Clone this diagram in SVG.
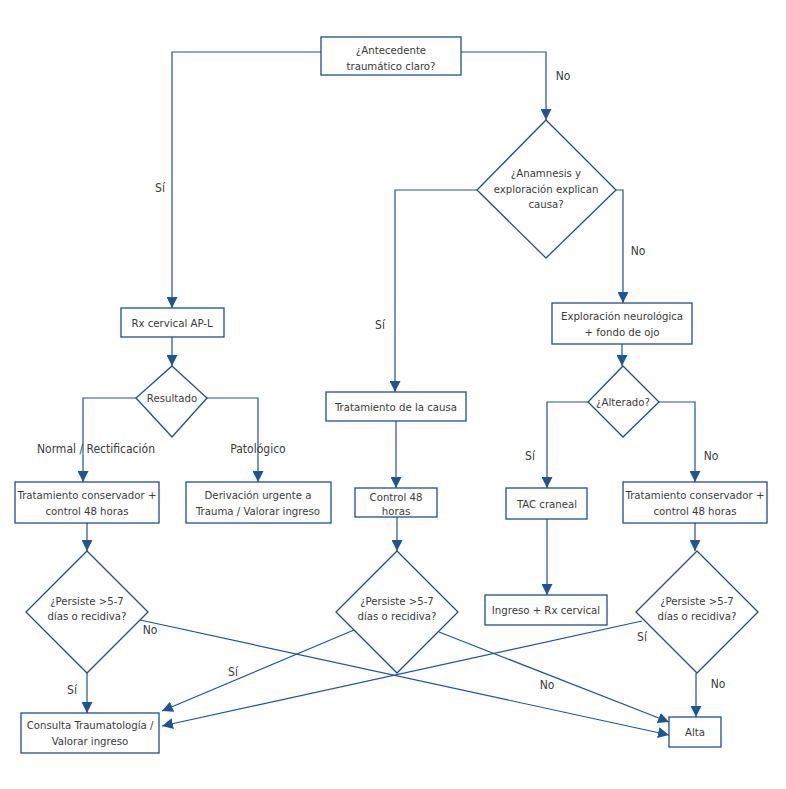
<svg xmlns="http://www.w3.org/2000/svg" width="786" height="789" viewBox="0 0 786 789">
<defs>
<marker id="ah" markerUnits="userSpaceOnUse" markerWidth="11" markerHeight="11" viewBox="0 0 10 10" refX="10" refY="5" orient="auto">
<path d="M0,0 L10,5 L0,10 z" fill="#1d5597"/>
</marker>
<style>
.box{fill:#fff;stroke:#1d4f8c;stroke-width:1.3}
.c{fill:none;stroke:#1d5597;stroke-width:1.2;marker-end:url(#ah)}
text{font-family:"DejaVu Sans Condensed","Liberation Sans",sans-serif;font-size:11.3px;fill:#3a3a3a;text-anchor:middle}
.lb{font-size:12px}
</style>
</defs>
<rect width="786" height="789" fill="#fff"/>
<g id="connectors">
<path class="c" d="M321,52 H172 V308"/>
<path class="c" d="M461,52 H546 V120"/>
<path class="c" d="M477,190 H395 V392"/>
<path class="c" d="M616,190 H623 V303"/>
<path class="c" d="M172,337 V366"/>
<path class="c" d="M136,398 H83 V482"/>
<path class="c" d="M207,398 H258 V482"/>
<path class="c" d="M87,523 V551"/>
<path class="c" d="M87,673 V713"/>
<path class="c" d="M396,421 V488"/>
<path class="c" d="M397,517 V551"/>
<path class="c" d="M622,344 V366"/>
<path class="c" d="M588,402 H547 V488"/>
<path class="c" d="M659,402 H695 V482"/>
<path class="c" d="M547,519 V595"/>
<path class="c" d="M695,523 V551"/>
<path class="c" d="M696,673 V717"/>
<path class="c" d="M140,620 L669,735"/>
<path class="c" d="M439,632 L669,722"/>
<path class="c" d="M354,630 L162,711"/>
<path class="c" d="M642,621 L162,726"/>
</g>
<g id="labels">
<text class="lb" x="160" y="192">Sí</text>
<text class="lb" x="563" y="80">No</text>
<text class="lb" x="380" y="329">Sí</text>
<text class="lb" x="638" y="255">No</text>
<text class="lb" x="96" y="453">Normal / Rectificación</text>
<text class="lb" x="258" y="453">Patológico</text>
<text class="lb" x="530" y="460">Sí</text>
<text class="lb" x="711" y="460">No</text>
<text class="lb" x="150" y="634">No</text>
<text class="lb" x="72" y="694">Sí</text>
<text class="lb" x="233" y="676">Sí</text>
<text class="lb" x="547" y="689">No</text>
<text class="lb" x="642" y="641">Sí</text>
<text class="lb" x="718" y="688">No</text>
</g>
<g id="n-antecedente">
<rect class="box" x="321" y="37" width="140" height="38"/>
<text x="391" y="54">¿Antecedente</text>
<text x="391" y="70">traumático claro?</text>
</g>
<g id="n-anamnesis">
<polygon class="box" points="546,120 616,190 546,258 477,190"/>
<text x="546" y="177">¿Anamnesis y</text>
<text x="546" y="193">exploración explican</text>
<text x="546" y="208">causa?</text>
</g>
<g id="n-rx">
<rect class="box" x="121" y="308" width="103" height="29"/>
<text x="172" y="327">Rx cervical AP-L</text>
</g>
<g id="n-resultado">
<polygon class="box" points="172,366 207,398 172,437 136,398"/>
<text x="172" y="402">Resultado</text>
</g>
<g id="n-trat-l">
<rect class="box" x="15" y="482" width="144" height="41"/>
<text x="87" y="499">Tratamiento conservador +</text>
<text x="87" y="515">control 48 horas</text>
</g>
<g id="n-derivacion">
<rect class="box" x="186" y="482" width="145" height="41"/>
<text x="258" y="499">Derivación urgente a</text>
<text x="258" y="515">Trauma / Valorar ingreso</text>
</g>
<g id="n-persiste-l">
<polygon class="box" points="87,551 148,612 87,673 26,612"/>
<text x="87" y="605">¿Persiste &gt;5-7</text>
<text x="87" y="620">días o recidiva?</text>
</g>
<g id="n-consulta">
<rect class="box" x="21" y="713" width="138" height="40"/>
<text x="90" y="729">Consulta Traumatología /</text>
<text x="90" y="745">Valorar ingreso</text>
</g>
<g id="n-trat-causa">
<rect class="box" x="326" y="392" width="140" height="29"/>
<text x="396" y="411">Tratamiento de la causa</text>
</g>
<g id="n-control">
<rect class="box" x="355" y="488" width="82" height="29"/>
<text x="396" y="501">Control 48</text>
<text x="396" y="515">horas</text>
</g>
<g id="n-persiste-m">
<polygon class="box" points="397,551 458,612 397,673 336,612"/>
<text x="397" y="605">¿Persiste &gt;5-7</text>
<text x="397" y="620">días o recidiva?</text>
</g>
<g id="n-exploracion">
<rect class="box" x="552" y="303" width="140" height="41"/>
<text x="622" y="320">Exploración neurológica</text>
<text x="622" y="336">+ fondo de ojo</text>
</g>
<g id="n-alterado">
<polygon class="box" points="623,366 659,402 623,437 588,402"/>
<text x="623" y="406">¿Alterado?</text>
</g>
<g id="n-tac">
<rect class="box" x="506" y="488" width="81" height="31"/>
<text x="547" y="508">TAC craneal</text>
</g>
<g id="n-trat-r">
<rect class="box" x="623" y="482" width="144" height="41"/>
<text x="695" y="499">Tratamiento conservador +</text>
<text x="695" y="515">control 48 horas</text>
</g>
<g id="n-ingreso">
<rect class="box" x="485" y="595" width="122" height="30"/>
<text x="546" y="614">Ingreso + Rx cervical</text>
</g>
<g id="n-persiste-r">
<polygon class="box" points="697,551 758,612 697,673 636,612"/>
<text x="697" y="605">¿Persiste &gt;5-7</text>
<text x="697" y="620">días o recidiva?</text>
</g>
<g id="n-alta">
<rect class="box" x="669" y="717" width="52" height="30"/>
<text x="695" y="736">Alta</text>
</g>
</svg>
